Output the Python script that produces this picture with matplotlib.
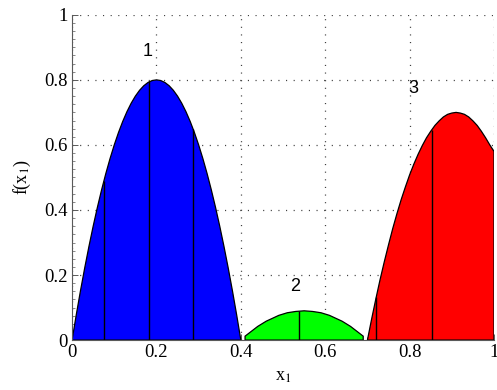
import numpy as np
import matplotlib
matplotlib.use("Agg")
import matplotlib.pyplot as plt
from matplotlib.ticker import MultipleLocator, FormatStrFormatter

# curve samples
blue_x = [0, 0.01, 0.02, 0.03, 0.04, 0.05, 0.06, 0.07, 0.08, 0.09, 0.10,
          0.11, 0.12, 0.13, 0.14, 0.15, 0.16, 0.17, 0.18, 0.19, 0.20,
          0.21, 0.22, 0.23, 0.24, 0.25, 0.26, 0.27, 0.28, 0.29, 0.30,
          0.31, 0.32, 0.33, 0.34, 0.35, 0.36, 0.37, 0.38, 0.39, 0.40]
blue_y = [0, 0.078, 0.152, 0.222, 0.288, 0.350, 0.408, 0.462, 0.512, 0.558, 0.600,
          0.638, 0.672, 0.702, 0.728, 0.750, 0.768, 0.782, 0.792, 0.798, 0.800,
          0.798, 0.792, 0.782, 0.768, 0.750, 0.728, 0.702, 0.672, 0.638, 0.600,
          0.558, 0.512, 0.462, 0.408, 0.350, 0.288, 0.222, 0.152, 0.078, 0]
green_x = [0.41, 0.42, 0.43, 0.44, 0.45, 0.46, 0.47, 0.48, 0.49, 0.50,
           0.51, 0.52, 0.53, 0.54, 0.55, 0.56, 0.57, 0.58, 0.59, 0.60,
           0.61, 0.62, 0.63, 0.64, 0.65, 0.66, 0.67, 0.68, 0.69]
green_y = [0.012, 0.022, 0.032, 0.042, 0.050, 0.058, 0.064, 0.070, 0.076, 0.080,
           0.084, 0.086, 0.088, 0.089, 0.090, 0.089, 0.088, 0.086, 0.084, 0.080,
           0.076, 0.070, 0.064, 0.058, 0.050, 0.042, 0.032, 0.022, 0.012]
red_x = [0.70, 0.71, 0.72, 0.73, 0.74, 0.75, 0.76, 0.77, 0.78, 0.79, 0.80,
         0.81, 0.82, 0.83, 0.84, 0.85, 0.86, 0.87, 0.88, 0.89, 0.90,
         0.91, 0.92, 0.93, 0.94, 0.95, 0.96, 0.97, 0.98, 0.99, 1.00]
red_y = [0, 0.065, 0.127, 0.186, 0.241, 0.293, 0.343, 0.389, 0.432, 0.471, 0.508,
         0.541, 0.571, 0.598, 0.622, 0.642, 0.660, 0.674, 0.686, 0.694, 0.698,
         0.700, 0.698, 0.694, 0.686, 0.674, 0.660, 0.642, 0.622, 0.600, 0.580]

# vertical sample lines inside each region (x, height)
seg_x = [0.076, 0.182, 0.287, 0.538, 0.721, 0.853]
seg_h = [0.490, 0.795, 0.650, 0.089, 0.133, 0.646]

labels = ["1", "2", "3"]
label_x = [0.18, 0.528, 0.808]
label_y = [0.886, 0.166, 0.775]

serif = "Liberation Serif"
plt.rcParams["font.family"] = serif
plt.rcParams["mathtext.fontset"] = "stix"

fig = plt.figure(figsize=(4.97, 3.90), dpi=100)
ax = fig.add_axes([0.145, 0.128, 0.849, 0.834])

for xs, ys, col in [(blue_x, blue_y, "#0000ff"), (green_x, green_y, "#00ff00"),
                    (red_x, red_y, "#ff0000")]:
    px = [xs[0]] + list(xs) + [xs[-1]]
    py = [0] + list(ys) + [0]
    ax.fill(px, py, facecolor=col, edgecolor="black", lw=0.9, zorder=2)

ax.vlines(seg_x, 0, seg_h, colors="black", lw=1.0, zorder=3)

for t, x, y in zip(labels, label_x, label_y):
    ax.text(x, y, t, fontsize=13, family="Liberation Sans", ha="center",
            va="center", zorder=4)

ax.set_xlim(0, 1)
ax.set_ylim(0, 1)
ax.xaxis.set_major_locator(MultipleLocator(0.2))
ax.yaxis.set_major_locator(MultipleLocator(0.2))
ax.xaxis.set_minor_locator(MultipleLocator(0.02))
ax.yaxis.set_minor_locator(MultipleLocator(0.025))
ax.xaxis.set_major_formatter(FormatStrFormatter("%g"))
ax.yaxis.set_major_formatter(FormatStrFormatter("%g"))

ax.set_axisbelow(True)
ax.grid(True, which="major", color="0.25", lw=0.9, linestyle=(0, (0.9, 5.2)))

for s in ["top", "right"]:
    ax.spines[s].set_visible(False)
for s in ["left", "bottom"]:
    ax.spines[s].set_color("0.35")
    ax.spines[s].set_linewidth(0.8)

ax.tick_params(which="both", direction="in", color="0.35", top=False, right=False)
ax.tick_params(which="major", length=4, width=0.7, labelsize=13.5, pad=3)
ax.tick_params(which="minor", length=2, width=0.5)

ax.set_xlabel("x$_1$", fontsize=13, labelpad=5)
ax.set_ylabel("f(x$_1$)", fontsize=13, labelpad=8)

fig.savefig("out.png", dpi=100)
